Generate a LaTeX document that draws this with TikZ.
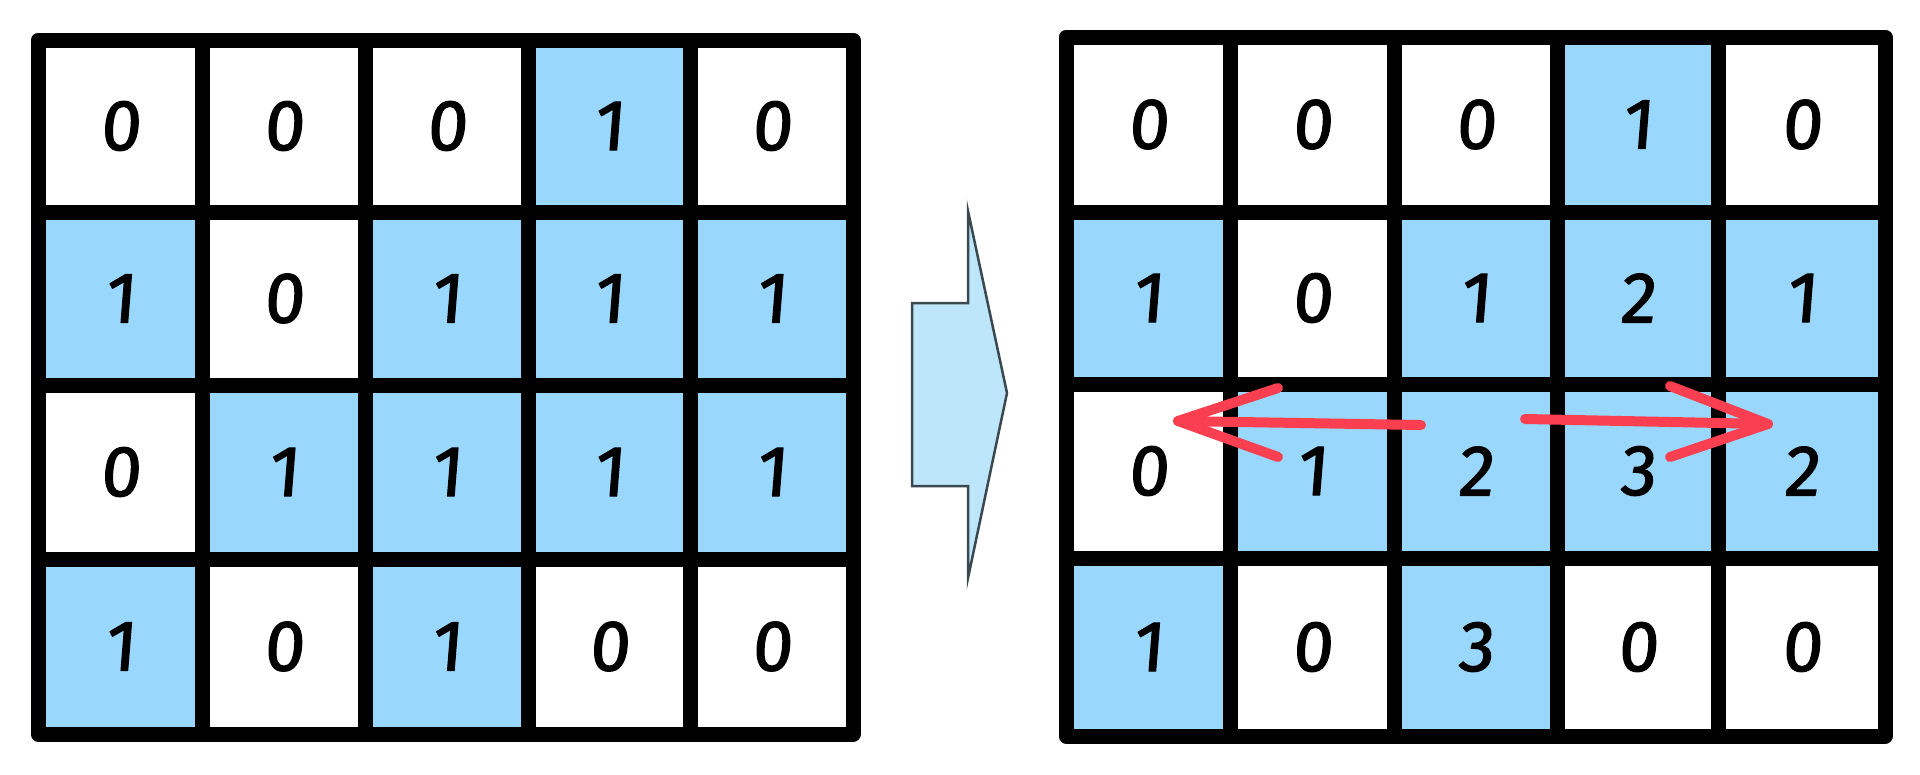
\documentclass[tikz,border=0pt]{standalone}
\usepackage{fontspec}
\setmainfont{Fira Sans}
\newfontfamily\digitfont{Fira Sans}[FakeBold=1.6, FakeSlant=0.08]
\definecolor{cellblue}{RGB}{153,216,252}
\definecolor{arrowfill}{RGB}{189,230,251}
\definecolor{arrowline}{RGB}{60,72,80}
\definecolor{redline}{RGB}{250,64,80}
\tikzset{
  cellbox/.style={draw=black, line width=15pt, inner sep=0pt, outer sep=0pt,
    font=\digitfont\fontsize{72}{72}\selectfont, line join=round},
  blue/.style={fill=cellblue},
  white/.style={fill=white},
  redarrow/.style={draw=redline, line width=10pt, line cap=round, line join=round},
}
% \mkcell{name}{x0}{x1}{y0}{y1}{style}{text}
\newcommand{\mkcell}[7]{%
  \node[cellbox,#6,minimum width={(#3-#2)*1pt},minimum height={(#5-#4)*1pt}]
    (#1) at ({(#2+#3)/2},{(#4+#5)/2}) {\raisebox{-6pt}{#7}};}
\begin{document}
\begin{tikzpicture}[x=1pt,y=-1pt]
\useasboundingbox (0,0) rectangle (1920,774);
\fill[white] (0,0) rectangle (1920,774);
% ---------- left grid ----------
\def\Lxa{38}\def\Lxb{202}\def\Lxc{365}\def\Lxd{528}\def\Lxe{690}\def\Lxf{853}
\def\Lya{40}\def\Lyb{212}\def\Lyc{385}\def\Lyd{559}\def\Lye{734}
% row 1
\mkcell{L11}{\Lxa}{\Lxb}{\Lya}{\Lyb}{white}{0}
\mkcell{L12}{\Lxb}{\Lxc}{\Lya}{\Lyb}{white}{0}
\mkcell{L13}{\Lxc}{\Lxd}{\Lya}{\Lyb}{white}{0}
\mkcell{L14}{\Lxd}{\Lxe}{\Lya}{\Lyb}{blue}{1}
\mkcell{L15}{\Lxe}{\Lxf}{\Lya}{\Lyb}{white}{0}
% row 2
\mkcell{L21}{\Lxa}{\Lxb}{\Lyb}{\Lyc}{blue}{1}
\mkcell{L22}{\Lxb}{\Lxc}{\Lyb}{\Lyc}{white}{0}
\mkcell{L23}{\Lxc}{\Lxd}{\Lyb}{\Lyc}{blue}{1}
\mkcell{L24}{\Lxd}{\Lxe}{\Lyb}{\Lyc}{blue}{1}
\mkcell{L25}{\Lxe}{\Lxf}{\Lyb}{\Lyc}{blue}{1}
% row 3
\mkcell{L31}{\Lxa}{\Lxb}{\Lyc}{\Lyd}{white}{0}
\mkcell{L32}{\Lxb}{\Lxc}{\Lyc}{\Lyd}{blue}{1}
\mkcell{L33}{\Lxc}{\Lxd}{\Lyc}{\Lyd}{blue}{1}
\mkcell{L34}{\Lxd}{\Lxe}{\Lyc}{\Lyd}{blue}{1}
\mkcell{L35}{\Lxe}{\Lxf}{\Lyc}{\Lyd}{blue}{1}
% row 4
\mkcell{L41}{\Lxa}{\Lxb}{\Lyd}{\Lye}{blue}{1}
\mkcell{L42}{\Lxb}{\Lxc}{\Lyd}{\Lye}{white}{0}
\mkcell{L43}{\Lxc}{\Lxd}{\Lyd}{\Lye}{blue}{1}
\mkcell{L44}{\Lxd}{\Lxe}{\Lyd}{\Lye}{white}{0}
\mkcell{L45}{\Lxe}{\Lxf}{\Lyd}{\Lye}{white}{0}
% ---------- block arrow ----------
\draw[fill=arrowfill, draw=arrowline, line width=2.5pt, line join=miter]
  (912,303) -- (968,303) -- (968,211) -- (1007,393) -- (968,578) -- (968,486) -- (912,486) -- cycle;
% ---------- right grid ----------
\def\Rxa{1066}\def\Rxb{1230}\def\Rxc{1394}\def\Rxd{1557}\def\Rxe{1718}\def\Rxf{1885}
\def\Rya{37}\def\Ryb{212}\def\Ryc{384}\def\Ryd{558}\def\Rye{736}
\def\low#1{\raisebox{-10pt}{#1}}
% row 1
\mkcell{R11}{\Rxa}{\Rxb}{\Rya}{\Ryb}{white}{0}
\mkcell{R12}{\Rxb}{\Rxc}{\Rya}{\Ryb}{white}{0}
\mkcell{R13}{\Rxc}{\Rxd}{\Rya}{\Ryb}{white}{0}
\mkcell{R14}{\Rxd}{\Rxe}{\Rya}{\Ryb}{blue}{1}
\mkcell{R15}{\Rxe}{\Rxf}{\Rya}{\Ryb}{white}{0}
% row 2
\mkcell{R21}{\Rxa}{\Rxb}{\Ryb}{\Ryc}{blue}{1}
\mkcell{R22}{\Rxb}{\Rxc}{\Ryb}{\Ryc}{white}{0}
\mkcell{R23}{\Rxc}{\Rxd}{\Ryb}{\Ryc}{blue}{1}
\mkcell{R24}{\Rxd}{\Rxe}{\Ryb}{\Ryc}{blue}{2}
\mkcell{R25}{\Rxe}{\Rxf}{\Ryb}{\Ryc}{blue}{1}
% row 3
\mkcell{R31}{\Rxa}{\Rxb}{\Ryc}{\Ryd}{white}{\low{0}}
\mkcell{R32}{\Rxb}{\Rxc}{\Ryc}{\Ryd}{blue}{\low{1}}
\mkcell{R33}{\Rxc}{\Rxd}{\Ryc}{\Ryd}{blue}{\low{2}}
\mkcell{R34}{\Rxd}{\Rxe}{\Ryc}{\Ryd}{blue}{\low{3}}
\mkcell{R35}{\Rxe}{\Rxf}{\Ryc}{\Ryd}{blue}{\low{2}}
% row 4
\mkcell{R41}{\Rxa}{\Rxb}{\Ryd}{\Rye}{blue}{1}
\mkcell{R42}{\Rxb}{\Rxc}{\Ryd}{\Rye}{white}{0}
\mkcell{R43}{\Rxc}{\Rxd}{\Ryd}{\Rye}{blue}{3}
\mkcell{R44}{\Rxd}{\Rxe}{\Ryd}{\Rye}{white}{0}
\mkcell{R45}{\Rxe}{\Rxf}{\Ryd}{\Rye}{white}{0}
% ---------- red arrows ----------
\coordinate (la) at (1421,425);
\coordinate (lt) at (1178,421);
\coordinate (lh1) at (1278,388);
\coordinate (lh2) at (1278,457);
\coordinate (ra) at (1525,419);
\coordinate (rt) at (1768,424);
\coordinate (rh1) at (1670,386);
\coordinate (rh2) at (1670,457);
\draw[redarrow] (la) -- (lt);
\draw[redarrow] (lh1) -- (lt) -- (lh2);
\draw[redarrow] (ra) -- (rt);
\draw[redarrow] (rh1) -- (rt) -- (rh2);
\end{tikzpicture}
\end{document}
